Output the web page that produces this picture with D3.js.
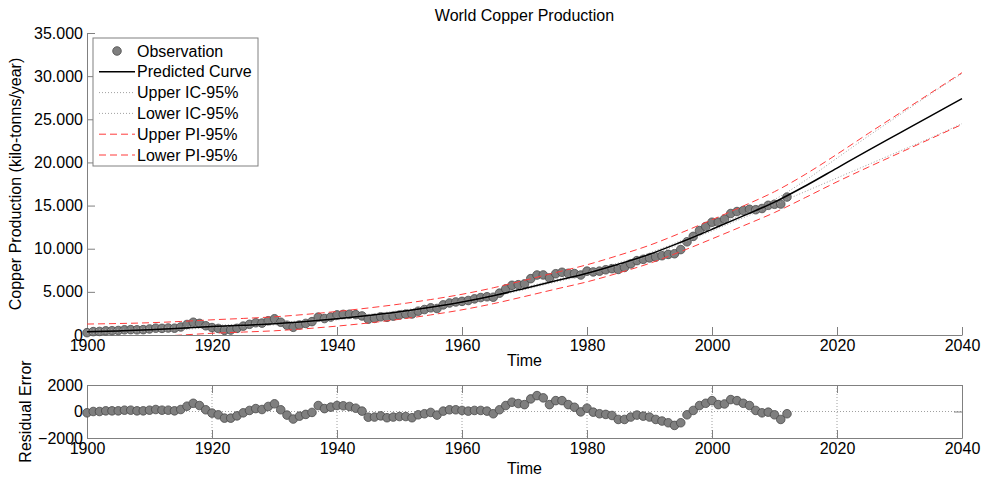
<!DOCTYPE html>
<html>
<head>
<meta charset="utf-8">
<script src="https://cdn.jsdelivr.net/npm/d3@7"></script>
<style>
  body { margin: 0; background: #fff; }
  svg { font-family: "Liberation Sans", Arial, sans-serif; }
  .axis path, .axis line { stroke: #808080; }
  .axis text { fill: #000; font-size: 16px; }
</style>
</head>
<body>
<svg id="chart" width="986" height="479"></svg>
<script>
var obsYears = d3.range(1900, 2013);
var observation = [
  270, 390, 410, 480, 500, 520, 600, 620, 600, 620,
  700, 790, 770, 810, 790, 930, 1220, 1480, 1350, 1070,
  860, 760, 540, 570, 770, 1030, 1240, 1420, 1380, 1650,
  1880, 1480, 1130, 890, 1160, 1340, 1550, 2070, 1910, 2080,
  2330, 2390, 2410, 2360, 2210, 1830, 1930, 2110, 2050, 2190,
  2320, 2420, 2440, 2760, 2950, 3150, 3070, 3490, 3710, 3830,
  3900, 4000, 4190, 4340, 4430, 4380, 4850, 5340, 5760, 5830,
  5920, 6530, 6950, 6960, 6620, 7100, 7270, 7150, 7120, 6950,
  7400, 7310, 7400, 7560, 7690, 7600, 7830, 8240, 8620, 8770,
  8930, 9030, 9190, 9340, 9420, 9900, 10800, 11430, 12100, 12570,
  13070, 13080, 13440, 14080, 14310, 14420, 14570, 14520, 14660, 15030,
  15150, 15180, 15990
];
var residual = [
  -100, 0, 0, 50, 50, 50, 100, 100, 50, 50,
  100, 150, 100, 100, 50, 150, 400, 620, 450, 130,
  -120, -250, -500, -500, -330, -100, 80, 220, 150, 380,
  580, 130, -270, -570, -350, -220, -70, 450, 220, 330,
  450, 430, 380, 250, 30, -430, -420, -330, -470, -420,
  -380, -380, -470, -250, -170, -70, -270, 30, 130, 130,
  80, 30, 80, 80, 30, -170, 130, 450, 700, 600,
  520, 950, 1200, 1030, 520, 820, 820, 520, 320, -30,
  250, -50, -170, -220, -300, -600, -600, -420, -270, -350,
  -420, -600, -720, -850, -1050, -850, -250, 80, 450, 620,
  820, 520, 570, 900, 820, 620, 450, 80, -100, -50,
  -250, -600, -170
];

var fitYears = d3.range(1900, 2041, 5);
var predicted = [
  370, 470, 600, 780, 980, 1130, 1300, 1560, 1880, 2260,
  2700, 3220, 3820, 4550, 5400, 6280, 7150, 8200, 9350, 10750,
  12250, 13800, 15400, 17300, 19350, 21400, 23400, 25400, 27400
];
var upperIC = [
  590, 660, 770, 930, 1120, 1260, 1430, 1690, 2010, 2390,
  2830, 3350, 3950, 4680, 5530, 6420, 7290, 8350, 9510, 10920,
  12440, 14020, 15700, 17950, 20500, 23050, 25500, 27950, 30300
];
var lowerIC = [
  150, 280, 430, 630, 840, 1000, 1170, 1430, 1750, 2130,
  2570, 3090, 3690, 4420, 5270, 6140, 7010, 8050, 9190, 10580,
  12060, 13580, 15100, 16650, 18200, 19750, 21300, 22850, 24500
];
var upperPI = [
  1270, 1330, 1420, 1570, 1760, 1920, 2110, 2390, 2730, 3130,
  3580, 4110, 4720, 5470, 6340, 7240, 8140, 9220, 10400, 11830,
  13360, 14950, 16610, 18650, 20950, 23350, 25700, 28050, 30400
];
var lowerPI = [
  -530, -390, -220, -10, 200, 340, 490, 730, 1030, 1390,
  1820, 2330, 2920, 3630, 4460, 5320, 6160, 7180, 8300, 9670,
  11140, 12650, 14190, 15950, 17750, 19450, 21100, 22750, 24400
];

var xTicks = [1900, 1920, 1940, 1960, 1980, 2000, 2020, 2040];
var yTicks = [0, 5000, 10000, 15000, 20000, 25000, 30000, 35000];
var resTicks = [-2000, 0, 2000];
var legendLabels = ["Observation", "Predicted Curve", "Upper IC-95%", "Lower IC-95%", "Upper PI-95%", "Lower PI-95%"];

var svg = d3.select("#chart");
var plotLeft = 87, plotRight = 962,
    plotTop = 33, plotBottom = 335,
    resTop = 385, resBottom = 438,
    tickLen = 8,
    dotR = 4.3;

var locale = d3.formatLocale({decimal: ",", thousands: ".", grouping: [3], currency: ["", ""]});
var fmt = locale.format(",d");

var x = d3.scaleLinear().domain([1900, 2040]).range([plotLeft, plotRight]);
var y = d3.scaleLinear().domain([0, 35000]).range([plotBottom, plotTop]);
var yRes = d3.scaleLinear().domain([-2000, 2000]).range([resBottom, resTop]);

svg.append("defs").append("clipPath")
  .attr("id", "clipMain")
  .append("rect")
  .attr("x", plotLeft).attr("y", 0)
  .attr("width", plotRight - plotLeft + 2).attr("height", plotBottom);

// title
svg.append("text")
  .attr("x", (plotLeft + plotRight) / 2)
  .attr("y", 21)
  .attr("text-anchor", "middle")
  .style("font-size", "16px")
  .text("World Copper Production");

// main axes
svg.append("g")
  .attr("class", "axis")
  .attr("transform", "translate(0," + plotBottom + ")")
  .call(d3.axisBottom(x).tickValues(xTicks).tickFormat(d3.format("d")).tickSizeInner(-tickLen).tickSizeOuter(0).tickPadding(4))
  .call(function (g) { g.selectAll("text").attr("dy", "0.75em"); });

svg.append("g")
  .attr("class", "axis")
  .attr("transform", "translate(" + plotLeft + ",0)")
  .call(d3.axisLeft(y).tickValues(yTicks).tickFormat(fmt).tickSizeInner(-tickLen).tickSizeOuter(0).tickPadding(4));

svg.append("text")
  .attr("x", (plotLeft + plotRight) / 2)
  .attr("y", 366)
  .attr("text-anchor", "middle")
  .style("font-size", "16px")
  .text("Time");

svg.append("text")
  .attr("transform", "translate(21," + ((plotTop + plotBottom) / 2) + ") rotate(-90)")
  .attr("text-anchor", "middle")
  .style("font-size", "16px")
  .text("Copper Production (kilo-tonns/year)");

// observations
svg.append("g")
  .selectAll("circle")
  .data(observation)
  .enter()
  .append("circle")
  .attr("cx", function (d, i) { return x(obsYears[i]); })
  .attr("cy", function (d) { return y(d); })
  .attr("r", dotR)
  .attr("fill", "#7f7f7f")
  .attr("stroke", "#4a4a4a")
  .attr("stroke-width", 0.8);

var line = d3.line()
  .x(function (d, i) { return x(fitYears[i]); })
  .y(function (d) { return y(d); })
  .curve(d3.curveMonotoneX);

var curves = [
  {data: upperIC, color: "#a0a0a0", dash: "1,2", width: 1},
  {data: lowerIC, color: "#a0a0a0", dash: "1,2", width: 1},
  {data: upperPI, color: "#ff3b3b", dash: "7,4", width: 1},
  {data: lowerPI, color: "#ff3b3b", dash: "7,4", width: 1},
  {data: predicted, color: "#000", dash: null, width: 1.5}
];

svg.append("g")
  .attr("clip-path", "url(#clipMain)")
  .selectAll("path")
  .data(curves)
  .enter()
  .append("path")
  .attr("d", function (d) { return line(d.data); })
  .attr("fill", "none")
  .attr("stroke", function (d) { return d.color; })
  .attr("stroke-width", function (d) { return d.width; })
  .attr("stroke-dasharray", function (d) { return d.dash; });

// legend
var lg = svg.append("g").attr("class", "legend");
lg.append("rect")
  .attr("x", 93).attr("y", 38)
  .attr("width", 165).attr("height", 128)
  .attr("fill", "#fff")
  .attr("stroke", "#808080");

var legendStyles = [
  null,
  {color: "#000", dash: null, width: 1.5},
  {color: "#a0a0a0", dash: "1,2", width: 1},
  {color: "#a0a0a0", dash: "1,2", width: 1},
  {color: "#ff3b3b", dash: "7,4", width: 1},
  {color: "#ff3b3b", dash: "7,4", width: 1}
];

legendLabels.forEach(function (label, i) {
  var cy = 51 + i * 20.8;
  if (i === 0) {
    lg.append("circle")
      .attr("cx", 117).attr("cy", cy)
      .attr("r", dotR)
      .attr("fill", "#7f7f7f")
      .attr("stroke", "#4a4a4a")
      .attr("stroke-width", 0.8);
  } else {
    var s = legendStyles[i];
    lg.append("line")
      .attr("x1", 99).attr("x2", 135)
      .attr("y1", cy).attr("y2", cy)
      .attr("stroke", s.color)
      .attr("stroke-width", s.width)
      .attr("stroke-dasharray", s.dash);
  }
  lg.append("text")
    .attr("x", 137)
    .attr("y", cy)
    .attr("dy", "0.35em")
    .style("font-size", "16px")
    .text(label);
});

// residual panel
var res = svg.append("g");

res.append("g")
  .selectAll("line")
  .data(xTicks.slice(1, -1))
  .enter()
  .append("line")
  .attr("x1", function (d) { return x(d); })
  .attr("x2", function (d) { return x(d); })
  .attr("y1", resTop).attr("y2", resBottom)
  .attr("stroke", "#a0a0a0")
  .attr("stroke-dasharray", "1,2");

res.append("line")
  .attr("x1", plotLeft).attr("x2", plotRight)
  .attr("y1", yRes(0)).attr("y2", yRes(0))
  .attr("stroke", "#a0a0a0")
  .attr("stroke-dasharray", "1,2");

res.append("g")
  .attr("class", "axis")
  .attr("transform", "translate(0," + resBottom + ")")
  .call(d3.axisBottom(x).tickValues(xTicks).tickFormat(d3.format("d")).tickSizeInner(-tickLen).tickSizeOuter(0).tickPadding(4))
  .call(function (g) { g.selectAll("text").attr("dy", "0.75em"); });

res.append("g")
  .attr("class", "axis")
  .attr("transform", "translate(0," + resTop + ")")
  .call(d3.axisTop(x).tickValues(xTicks).tickFormat("").tickSizeInner(-tickLen).tickSizeOuter(0));

res.append("g")
  .attr("class", "axis")
  .attr("transform", "translate(" + plotLeft + ",0)")
  .call(d3.axisLeft(yRes).tickValues(resTicks).tickFormat(d3.format("d")).tickSizeInner(-tickLen).tickSizeOuter(0).tickPadding(4));

res.append("g")
  .attr("class", "axis")
  .attr("transform", "translate(" + plotRight + ",0)")
  .call(d3.axisRight(yRes).tickValues(resTicks).tickFormat("").tickSizeInner(-tickLen).tickSizeOuter(0));

res.append("g")
  .selectAll("circle")
  .data(residual)
  .enter()
  .append("circle")
  .attr("cx", function (d, i) { return x(obsYears[i]); })
  .attr("cy", function (d) { return yRes(d); })
  .attr("r", dotR)
  .attr("fill", "#7f7f7f")
  .attr("stroke", "#4a4a4a")
  .attr("stroke-width", 0.8);

svg.append("text")
  .attr("x", (plotLeft + plotRight) / 2)
  .attr("y", 474)
  .attr("text-anchor", "middle")
  .style("font-size", "16px")
  .text("Time");

svg.append("text")
  .attr("transform", "translate(31," + ((resTop + resBottom) / 2) + ") rotate(-90)")
  .attr("text-anchor", "middle")
  .style("font-size", "16px")
  .text("Residual Error");
</script>
</body>
</html>
